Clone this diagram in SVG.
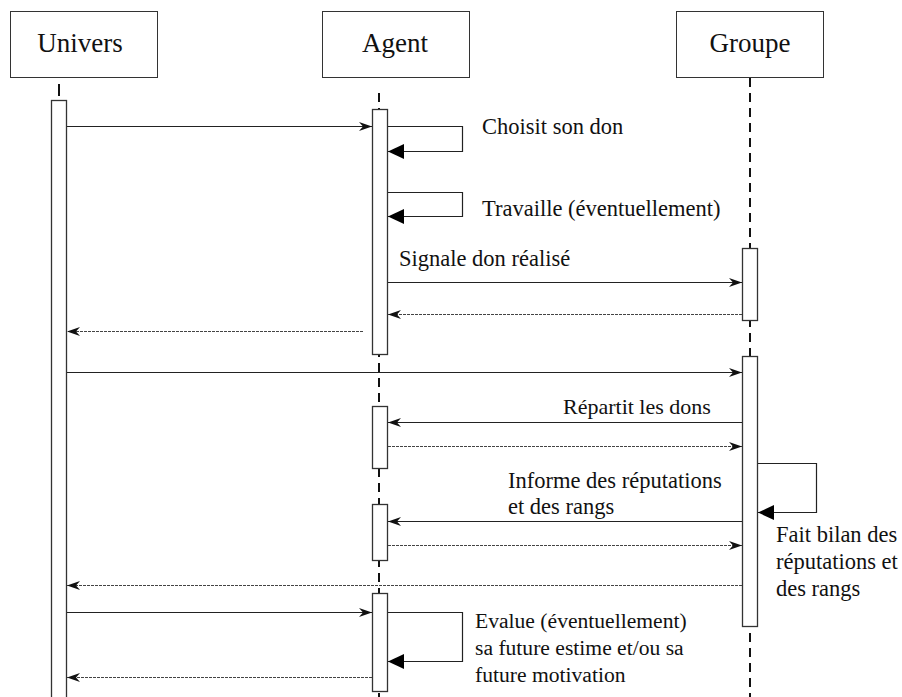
<svg xmlns="http://www.w3.org/2000/svg" width="902" height="697" viewBox="0 0 902 697">
<style>
.hd{fill:#fff;stroke:#333;stroke-width:1}
.ht{font-family:'Liberation Serif','DejaVu Serif',serif;font-size:27px;fill:#111;text-anchor:middle}
.tx{font-family:'Liberation Serif','DejaVu Serif',serif;font-size:22.5px;fill:#111}
.sm{font-size:21.6px}
.life{stroke:#111;stroke-width:2;stroke-dasharray:9 6;fill:none}
.bar{fill:#fff;stroke:#333;stroke-width:1.3}
.msg{stroke:#222;stroke-width:1.2;fill:none;marker-end:url(#barb)}
.ret{stroke:#444;stroke-width:1;stroke-dasharray:3 1;fill:none;marker-end:url(#barb)}
.self{stroke:#222;stroke-width:1.2;fill:none;marker-end:url(#tri)}
</style>
<defs>
<marker id="barb" markerUnits="userSpaceOnUse" markerWidth="16" markerHeight="12" viewBox="-14 -6 16 12" refX="0" refY="0" orient="auto" overflow="visible">
<path d="M-13,-4.5 L0,0 L-13,4.5 L-9,0 Z" fill="#111"/>
</marker>
<marker id="tri" markerUnits="userSpaceOnUse" markerWidth="18" markerHeight="16" viewBox="-17 -8 18 16" refX="0" refY="0" orient="auto" overflow="visible">
<path d="M-16,-7.5 L0,0 L-16,7.5 Z" fill="#000"/>
</marker>
</defs>
<rect width="902" height="697" fill="#fff"/>

<g id="univers">
<rect class="hd" x="10.5" y="11.5" width="147" height="66"/>
<text class="ht" x="80" y="52">Univers</text>
<line x1="59" y1="84" x2="59" y2="96" stroke="#111" stroke-width="2"/>
<rect class="bar" x="51.5" y="100.5" width="15" height="610"/>
</g>

<g id="agent">
<rect class="hd" x="322.5" y="11.5" width="147" height="66"/>
<text class="ht" x="395" y="52">Agent</text>
<line class="life" x1="379" y1="93" x2="379" y2="697"/>
<rect class="bar" x="372.5" y="109.5" width="15" height="245"/>
<rect class="bar" x="372.5" y="406.5" width="15" height="62"/>
<rect class="bar" x="372.5" y="504.5" width="15" height="56"/>
<rect class="bar" x="372.5" y="593.5" width="15" height="98"/>
</g>

<g id="groupe">
<rect class="hd" x="676.5" y="11.5" width="147" height="66"/>
<text class="ht" x="750" y="52">Groupe</text>
<line class="life" x1="750" y1="78" x2="750" y2="697"/>
<rect class="bar" x="742.5" y="248.5" width="15" height="72"/>
<rect class="bar" x="742.5" y="356.5" width="15" height="270"/>
</g>

<g id="connectors">
<line class="msg" x1="67" y1="126.5" x2="372" y2="126.5"/>
<polyline class="self" points="388,126.5 462.5,126.5 462.5,151.5 388,151.5"/>
<polyline class="self" points="388,192.5 462.5,192.5 462.5,216.5 388,216.5"/>
<line class="msg" x1="388" y1="282.5" x2="742" y2="282.5"/>
<line class="ret" x1="742" y1="314.5" x2="388" y2="314.5"/>
<line class="ret" x1="363" y1="331.5" x2="67" y2="331.5"/>
<line class="msg" x1="67" y1="372.5" x2="742" y2="372.5"/>
<line class="msg" x1="742" y1="422.5" x2="388" y2="422.5"/>
<line class="ret" x1="388" y1="446.5" x2="742" y2="446.5"/>
<polyline class="self" points="758,463.5 816.5,463.5 816.5,512.5 758,512.5"/>
<line class="msg" x1="742" y1="521.5" x2="388" y2="521.5"/>
<line class="ret" x1="388" y1="545.5" x2="742" y2="545.5"/>
<line class="ret" x1="742" y1="585.5" x2="67" y2="585.5"/>
<line class="msg" x1="67" y1="612.5" x2="372" y2="612.5"/>
<polyline class="self" points="388,612.5 462.5,612.5 462.5,661.5 388,661.5"/>
<line class="ret" x1="372" y1="677.5" x2="67" y2="677.5"/>
</g>

<g id="labels">
<text class="tx" x="482" y="134">Choisit son don</text>
<text class="tx" x="482" y="216">Travaille (éventuellement)</text>
<text class="tx" x="399" y="266">Signale don réalisé</text>
<text class="tx" x="563" y="414" font-size="22" style="font-size:22px">Répartit les dons</text>
<text class="tx" x="508" y="488">Informe des réputations</text>
<text class="tx" x="508" y="514">et des rangs</text>
<text class="tx" x="776" y="542">Fait bilan des</text>
<text class="tx" x="776" y="569">réputations et</text>
<text class="tx" x="776" y="596">des rangs</text>
<text class="tx sm" x="475" y="628">Evalue (éventuellement)</text>
<text class="tx sm" x="475" y="655">sa future estime et/ou sa</text>
<text class="tx sm" x="475" y="682">future motivation</text>
</g>
</svg>
